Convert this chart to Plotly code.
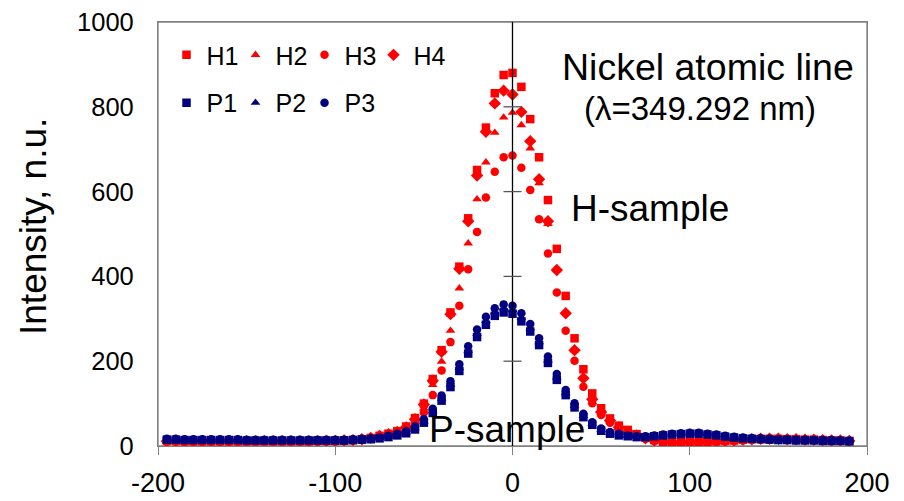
import plotly.graph_objects as go

X = [-195, -190, -185, -180, -175, -170, -165, -160, -155, -150, -145, -140, -135, -130,
     -125, -120, -115, -110, -105, -100, -95, -90, -85, -80,
     -75, -70, -65, -60, -55, -50, -45, -40, -35, -30, -25, -20, -15, -10, -5,
     0, 5, 10, 15, 20, 25, 30, 35, 40, 45, 50, 55, 60, 65, 70, 75,
     80, 85, 90, 95, 100, 105, 110, 115, 120, 125, 130, 135, 140, 145, 150, 155,
     160, 165, 170, 175, 180, 185, 190]

H1 = [12, 12, 11, 11, 11, 11, 11, 11, 11, 11, 11, 11, 11, 11,
      11, 11, 11, 12, 12, 12, 13, 14, 16, 19,
      24, 29, 35, 46, 66, 100, 158, 226, 315, 423, 537, 651, 751, 832, 875,
      880, 847, 771, 681, 580, 465, 354, 254, 181, 124, 89, 65, 48, 38, 28, 20,
      14, 10, 9, 9, 10, 10, 10, 11, 12, 13, 15, 16, 17, 17, 17, 16,
      16, 15, 15, 14, 13, 13, 12]
H2 = [11, 11, 11, 11, 10, 10, 10, 10, 10, 10, 10, 10, 10, 10,
      10, 10, 10, 11, 11, 11, 12, 13, 15, 18,
      22, 26, 30, 39, 56, 89, 144, 199, 272, 372, 478, 582, 669, 739, 775,
      786, 757, 702, 620, 524, 415, 315, 226, 160, 104, 78, 58, 42, 32, 24, 17,
      12, 9, 8, 8, 9, 9, 9, 10, 11, 12, 14, 15, 16, 16, 16, 15,
      15, 14, 14, 13, 13, 12, 12]
H3 = [10, 10, 10, 10, 10, 10, 10, 10, 10, 10, 10, 10, 10, 10,
      10, 10, 10, 10, 11, 11, 12, 13, 14, 17,
      20, 24, 28, 36, 55, 79, 120, 178, 245, 331, 417, 505, 586, 647, 681,
      685, 656, 604, 535, 454, 362, 272, 201, 140, 101, 73, 55, 40, 30, 23, 17,
      12, 9, 8, 8, 9, 9, 9, 10, 11, 12, 13, 14, 15, 15, 15, 15,
      14, 14, 13, 13, 12, 12, 11]
H4 = [11, 11, 11, 11, 11, 11, 11, 11, 11, 11, 11, 11, 11, 11,
      11, 11, 11, 11, 12, 12, 13, 14, 16, 19,
      24, 28, 33, 44, 63, 98, 154, 222, 311, 418, 530, 638, 741, 808, 838,
      829, 788, 719, 629, 530, 415, 313, 226, 160, 110, 80, 60, 44, 33, 25, 18,
      13, 10, 9, 9, 10, 10, 10, 11, 12, 13, 15, 16, 17, 17, 17, 16,
      16, 15, 15, 14, 13, 13, 12]

P1 = [15, 15, 14, 14, 14, 14, 14, 14, 14, 13, 13, 13, 13, 13,
      13, 13, 13, 13, 13, 13, 13, 14, 15, 16,
      18, 21, 25, 30, 39, 55, 78, 107, 139, 177, 218, 257, 286, 307, 315,
      312, 294, 270, 238, 196, 156, 120, 91, 68, 50, 36, 29, 25, 23, 21, 21,
      23, 25, 27, 28, 29, 29, 27, 25, 22, 20, 18, 17, 16, 15, 14, 14,
      13, 13, 13, 12, 12, 12, 11]
P2 = [16, 16, 15, 15, 15, 15, 15, 15, 15, 14, 14, 14, 14, 14,
      14, 14, 14, 14, 14, 14, 14, 15, 16, 17,
      19, 22, 27, 32, 42, 58, 82, 112, 145, 184, 225, 265, 295, 316, 325,
      321, 303, 278, 245, 202, 162, 125, 95, 71, 53, 38, 31, 27, 24, 22, 22,
      24, 26, 28, 29, 30, 30, 28, 26, 23, 21, 19, 18, 17, 16, 15, 15,
      14, 14, 14, 13, 13, 13, 12]
P3 = [17, 17, 16, 16, 16, 16, 16, 16, 16, 15, 15, 15, 15, 15,
      15, 15, 15, 15, 15, 15, 15, 16, 17, 18,
      20, 24, 29, 35, 46, 63, 88, 119, 153, 193, 235, 275, 305, 325, 334,
      331, 313, 288, 254, 211, 170, 132, 101, 76, 56, 41, 33, 29, 25, 23, 23,
      25, 27, 29, 30, 31, 31, 29, 27, 24, 22, 20, 19, 18, 17, 16, 16,
      15, 15, 14, 14, 14, 13, 13]

X_TICKS = [-200, -100, 0, 100, 200]
Y_TICKS = [0, 200, 400, 600, 800, 1000]

RED = "#FF0000"
BLUE = "#000080"
GREY = "#808080"
FONT = "Liberation Sans, Arial, sans-serif"

series = [
    ("H1", H1, RED, "square", "legend"),
    ("H2", H2, RED, "triangle-up", "legend"),
    ("H3", H3, RED, "circle", "legend"),
    ("H4", H4, RED, "diamond", "legend"),
    ("P1", P1, BLUE, "square", "legend2"),
    ("P2", P2, BLUE, "triangle-up", "legend2"),
    ("P3", P3, BLUE, "circle", "legend2"),
]

fig = go.Figure()
for name, ys, col, sym, lg in series:
    size = 9.5 if sym == "diamond" else 8.5
    fig.add_trace(go.Scatter(
        x=X, y=ys, mode="markers", name=name, legend=lg,
        marker=dict(symbol=sym, color=col, size=size, line=dict(width=0)),
    ))
# blank legend-only spacer entries so the last label of each legend row is not clipped
for lg in ("legend", "legend2"):
    fig.add_trace(go.Scatter(x=[0], y=[0], mode="markers", name="\u00a0", legend=lg,
                             visible="legendonly", hoverinfo="skip",
                             marker=dict(color="rgba(0,0,0,0)", size=1)))

# plot-area frame
fig.add_shape(type="rect", xref="paper", yref="paper", x0=0, x1=1, y0=0, y1=1,
              line=dict(color=GREY, width=1.3), layer="below")
# vertical axis line at x = 0 with crossing tick marks
fig.add_shape(type="line", xref="x", yref="y", x0=0, x1=0, y0=Y_TICKS[0], y1=Y_TICKS[-1],
              line=dict(color="black", width=1.3))
for v in Y_TICKS[1:-1]:
    fig.add_shape(type="line", xref="x", yref="y", xsizemode="pixel", xanchor=0,
                  x0=-9, x1=9, y0=v, y1=v, line=dict(color="#555555", width=1.3))

annots = [
    dict(text="Nickel atomic line", x=110.5, y=894, size=37.5),
    dict(text="(λ=349.292 nm)", x=106, y=797, size=33),
    dict(text="H-sample", x=77.7, y=561, size=37),
    dict(text="P-sample", x=-3, y=38, size=37),
]
for a in annots:
    fig.add_annotation(x=a["x"], y=a["y"], xref="x", yref="y", text=a["text"],
                       showarrow=False, font=dict(family=FONT, size=a["size"], color="black"))

# y-axis title
fig.add_annotation(x=-0.1756, y=0.5177, xref="paper", yref="paper", text="Intensity, n.u.",
                   textangle=-90, showarrow=False, xanchor="center", yanchor="middle",
                   font=dict(family=FONT, size=37, color="black"))

legend_common = dict(orientation="h", xanchor="left", yanchor="middle",
                     font=dict(size=25), entrywidth=24, entrywidthmode="pixels",
                     itemwidth=30, bgcolor="rgba(0,0,0,0)", traceorder="normal")

# the page body adds an 8px offset; margins compensate so the plot area lands at
# x 158..867, y 22..446 in the 904x501 window
fig.update_layout(
    width=904, height=501,
    margin=dict(l=150, r=45, t=14, b=63, autoexpand=False),
    paper_bgcolor="white", plot_bgcolor="white",
    font=dict(family=FONT, color="black"),
    legend=dict(x=0.012, y=0.922, **legend_common),
    legend2=dict(x=0.012, y=0.809, **legend_common),
    xaxis=dict(range=[-200, 200], tickvals=X_TICKS, ticktext=[str(v) for v in X_TICKS],
               ticks="outside", ticklen=8, automargin=False, ticklabeloverflow="allow",
               ticklabelstandoff=4,
               tickcolor=GREY, showline=True, linecolor=GREY, linewidth=1.3,
               mirror=True, showgrid=False, zeroline=False,
               tickfont=dict(size=27, family=FONT, color="black")),
    yaxis=dict(range=[0, 1000], tickvals=Y_TICKS, ticktext=[str(v) for v in Y_TICKS],
               ticks="", showline=True, automargin=False, ticklabeloverflow="allow",
               linecolor=GREY, linewidth=1.3, mirror=True, showgrid=False,
               zeroline=False, ticklabelstandoff=18,
               tickfont=dict(size=25.5, family=FONT, color="black")),
)

fig.write_html("out.html")
